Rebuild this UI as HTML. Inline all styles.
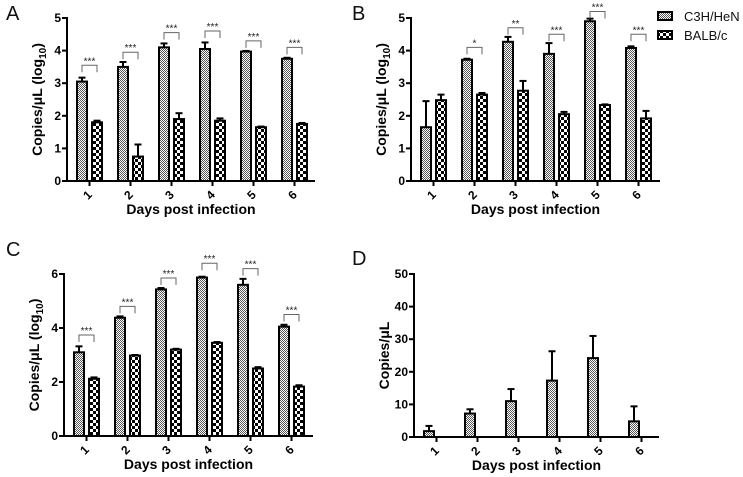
<!DOCTYPE html>
<html><head><meta charset="utf-8"><style>
html,body{margin:0;padding:0;background:#fff;}
svg{display:block;font-family:"Liberation Sans",Arial,sans-serif;}
</style></head><body>
<svg id="fig" width="743" height="477" viewBox="0 0 743 477">
<defs>
<pattern id="fine" width="2" height="2" patternUnits="userSpaceOnUse"><rect width="2" height="2" fill="#fff"/><rect width="1" height="1" fill="#555"/><rect x="1" y="1" width="1" height="1" fill="#555"/></pattern>
<pattern id="coarse" width="6" height="6" patternUnits="userSpaceOnUse"><rect width="6" height="6" fill="#fff"/><rect width="3" height="3" fill="#000"/><rect x="3" y="3" width="3" height="3" fill="#000"/></pattern>
</defs>
</svg>
<script>
const days = ["1","2","3","4","5","6"];
const aC3H = [3.05,3.5,4.1,4.05,3.97,3.75];
const aC3HErr = [0.12,0.15,0.12,0.2,0.02,0.03];
const aBALB = [1.8,0.75,1.9,1.85,1.65,1.75];
const aBALBErr = [0.05,0.37,0.18,0.07,0.02,0.03];
const aSig = ["***","***","***","***","***","***"];
const aSigY = [3.55,3.95,4.55,4.6,4.3,4.1];
const bC3H = [1.65,3.72,4.27,3.9,4.9,4.08];
const bC3HErr = [0.8,0.03,0.15,0.33,0.08,0.05];
const bBALB = [2.48,2.65,2.77,2.05,2.33,1.92];
const bBALBErr = [0.17,0.05,0.3,0.07,0.02,0.23];
const bSig = ["","*","**","***","***","***"];
const bSigY = [0,4.1,4.7,4.5,5.2,4.5];
const cC3H = [3.1,4.38,5.43,5.87,5.6,4.05];
const cC3HErr = [0.22,0.05,0.05,0.03,0.22,0.07];
const cBALB = [2.12,2.98,3.2,3.45,2.5,1.83];
const cBALBErr = [0.05,0.02,0.03,0.03,0.05,0.05];
const cSig = ["***","***","***","***","***","***"];
const cSigY = [3.74,4.8,5.85,6.4,6.2,4.5];
const dC3H = [1.8,7.2,11,17.3,24.2,4.8];
const dC3HErr = [1.6,1.3,3.7,9,6.8,4.6];
const abTicks = [0,1,2,3,4,5];
const cTicks = [0,2,4,6];
const dTicks = [0,10,20,30,40,50];

const svg = document.getElementById('fig');
const NS = 'http://www.w3.org/2000/svg';
function mk(tag, attrs, parent, text){
  const e = document.createElementNS(NS, tag);
  for (const k in attrs) e.setAttribute(k, attrs[k]);
  if (text !== undefined) e.textContent = text;
  (parent||svg).appendChild(e);
  return e;
}

function panel(o){
  const g = mk('g', {});
  
  
  const yS = v => o.y0 - (v - o.min) / (o.max - o.min) * (o.y0 - o.y1);
  const groupW = 41;
  const cx = i => o.x0 + 22.5 + i * groupW;
  const L = mk('text', {x:o.lx, y:o.ly, 'font-size':20, fill:'#111'}, g, o.letter);
  
  
  days.forEach((d,i)=>{
    const series = [[o.s1,o.e1,'url(#fine)'],[o.s2,o.e2,'url(#coarse)']];
    series.forEach((s,j)=>{
      if(!s[0]) return;
      const v = s[0][i], e = s[1][i];
      const bx = o.s2 ? cx(i) - 12.5 + j*15 : cx(i) - 12.5;
      const top = yS(v);
      const ey = yS(v + e);
      const el = mk('line', {x1:bx+5, x2:bx+5, y1:top, y2:ey, stroke:'#000','stroke-width':2}, g);
      
      
      const cap = mk('line', {x1:bx+1.5, x2:bx+8.5, y1:ey, y2:ey, stroke:'#000','stroke-width':2}, g);
      
      
      const r = mk('rect', {x:bx, y:top, width:10, height:o.y0-top, fill:s[2], stroke:'#000','stroke-width':2}, g);
      
      
    });
    if (o.sig && o.sig[i]) {
      const by = yS(o.sigY[i]);
      const x1 = cx(i) - 7.5, x2 = cx(i) + 7.5;
      const br = mk('path', {d:`M${x1},${by+7} V${by} H${x2} V${by+7}`, fill:'none', stroke:'#666','stroke-width':1}, g);
      
      
      const st = mk('text', {x:cx(i), y:by-1, 'font-size':10, 'text-anchor':'middle', fill:'#222'}, g, o.sig[i]);
      
      
    }
    const t = mk('line', {x1:cx(i), x2:cx(i), y1:o.y0, y2:o.y0+5, stroke:'#000','stroke-width':2}, g);
    
    
    const tl = mk('text', {x:cx(i)-2, y:o.y0+18, 'font-size':12, 'font-weight':'bold', 'text-anchor':'middle', transform:`rotate(-45 ${cx(i)-2} ${o.y0+14})`}, g, d);
    
    
  });
  const ya = mk('line', {x1:o.x0, x2:o.x0, y1:yS(o.max)-1, y2:o.y0+1, stroke:'#000','stroke-width':2}, g);
  
  
  const xa = mk('line', {x1:o.x0-1, x2:o.xEnd, y1:o.y0, y2:o.y0, stroke:'#000','stroke-width':2}, g);
  
  
  o.ticks.forEach(v=>{
    const y = yS(v);
    const tk = mk('line', {x1:o.x0-5, x2:o.x0, y1:y, y2:y, stroke:'#000','stroke-width':2}, g);
    
    
    const lb = mk('text', {x:o.x0-6, y:y+4, 'font-size':12, 'font-weight':'bold', 'text-anchor':'end'}, g, String(v));
    
    
  });
  const xt = mk('text', {x:(o.x0+o.xEnd)/2, y:o.y0+33, 'font-size':14, 'font-weight':'bold', 'text-anchor':'middle'}, g, 'Days post infection');
  
  
  const ymid = (o.y0 + yS(o.max))/2;
  const tx = o.x0 - 25;
  const yt = mk('text', {x:tx, y:ymid, 'font-size':14, 'font-weight':'bold', 'text-anchor':'middle', transform:`rotate(-90 ${tx} ${ymid})`}, g);
  
  
  mk('tspan', {}, yt, 'Copies/\u03bcL');
  if (o.log) {
    mk('tspan', {}, yt, ' (log');
    mk('tspan', {'font-size':10, dy:4}, yt, '10');
    mk('tspan', {dy:-4}, yt, ')');
  }
}

panel({name:'panel-a', letter:'A', lx:6, ly:20, x0:67, xEnd:315, y0:181, y1:18, min:0, max:5, ticks:abTicks, s1:aC3H, e1:aC3HErr, s2:aBALB, e2:aBALBErr, sig:aSig, sigY:aSigY, log:true});
panel({name:'panel-b', letter:'B', lx:352, ly:20, x0:411, xEnd:660, y0:181, y1:18, min:0, max:5, ticks:abTicks, s1:bC3H, e1:bC3HErr, s2:bBALB, e2:bBALBErr, sig:bSig, sigY:bSigY, log:true});
panel({name:'panel-c', letter:'C', lx:6, ly:256, x0:64, xEnd:313, y0:436, y1:274, min:0, max:6, ticks:cTicks, s1:cC3H, e1:cC3HErr, s2:cBALB, e2:cBALBErr, sig:cSig, sigY:cSigY, log:true});
panel({name:'panel-d', letter:'D', lx:352, ly:265, x0:414, xEnd:659, y0:437, y1:274, min:0, max:50, ticks:dTicks, s1:dC3H, e1:dC3HErr, log:false});

const lg = mk('g', {});


const r1 = mk('rect', {x:658, y:12, width:14, height:8, fill:'url(#fine)', stroke:'#000','stroke-width':2}, lg);


const t1 = mk('text', {x:684, y:21, 'font-size':13, fill:'#111'}, lg, 'C3H/HeN');


const r2 = mk('rect', {x:658, y:31, width:14, height:8, fill:'url(#coarse)', stroke:'#000','stroke-width':2}, lg);


const t2 = mk('text', {x:684, y:40, 'font-size':13, fill:'#111'}, lg, 'BALB/c');


</script>
</body></html>
